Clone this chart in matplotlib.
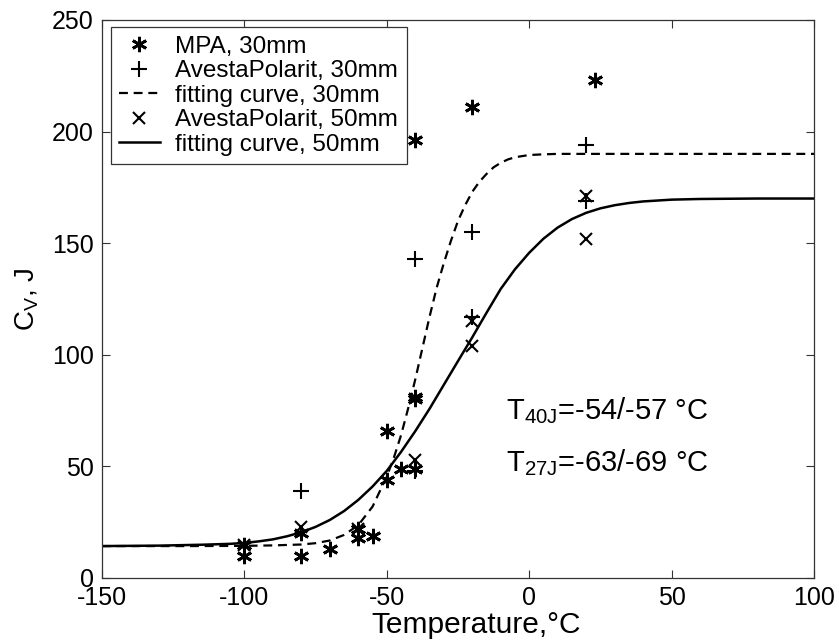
import matplotlib
matplotlib.use('Agg')
import matplotlib.pyplot as plt

plt.rcParams['font.family'] = ['Liberation Sans', 'DejaVu Sans']
plt.rcParams['mathtext.fontset'] = 'custom'
plt.rcParams['mathtext.rm'] = 'Liberation Sans'
plt.rcParams['mathtext.default'] = 'regular'
plt.rcParams['axes.unicode_minus'] = False

# MPA, 30mm (asterisks)
mpa_t = [-100, -100, -80, -80, -70, -60, -60, -55, -50, -50, -45, -40, -40, -40, -40, -20, 23]
mpa_cv = [15, 10, 20, 10, 13, 22, 18, 19, 44, 66, 49, 49, 80, 81, 196, 211, 223]

# AvestaPolarit, 30mm (plus)
ap30_t = [-80, -40, -40, -20, -20, 20, 20]
ap30_cv = [39, 143, 48, 155, 117, 194, 169]

# AvestaPolarit, 50mm (cross)
ap50_t = [-100, -80, -60, -40, -20, -20, 20, 20]
ap50_cv = [15, 23, 22, 53, 115, 104, 171, 152]

# fitting curve, 30mm
fit30_t = [-150, -120, -100, -90, -85, -80, -75, -70, -65, -60, -55, -50, -47.5, -45,
           -42.5, -40, -37.5, -35, -32.5, -30, -27.5, -25, -22.5, -20, -17.5, -15,
           -12.5, -10, -7.5, -5, 0, 5, 10, 20, 100]
fit30_cv = [14.3, 14.3, 14.4, 14.6, 14.8, 15.0, 15.6, 16.8, 19.3, 23.7, 32, 45.5, 54, 64,
            76, 89, 103, 117, 130, 141, 151, 160, 167, 173, 177.5, 181,
            184, 186, 187.5, 188.5, 189.5, 189.8, 190, 190, 190]

# fitting curve, 50mm
fit50_t = [-150, -130, -115, -105, -100, -95, -90, -85, -80, -75, -70, -65, -60, -55, -50,
           -45, -40, -35, -30, -25, -20, -15, -10, -5, 0, 5, 10, 15, 20, 25, 30, 35, 40,
           50, 60, 80, 100]
fit50_cv = [14.3, 14.5, 14.9, 15.3, 15.7, 16.4, 17.3, 18.7, 20.5, 22.9, 26, 30, 35, 41,
            48, 56.5, 65.8, 75.8, 86.5, 97.2, 107.8, 118.8, 129.5, 138.3, 145.7, 152,
            157, 160.8, 163.6, 165.6, 167, 168, 168.7, 169.5, 169.8, 170, 170]

xticks = [-150, -100, -50, 0, 50, 100]
yticks = [0, 50, 100, 150, 200, 250]

fig = plt.figure(figsize=(8.39, 6.44), dpi=100)
ax = fig.add_axes([0.1216, 0.1025, 0.8486, 0.8665])

asterisk = (6, 2, 0)
ax.plot(mpa_t, mpa_cv, linestyle='none', marker=asterisk, markersize=11,
        markeredgewidth=2.0, color='black', label='MPA, 30mm')
ax.plot(ap30_t, ap30_cv, linestyle='none', marker='+', markersize=12,
        markeredgewidth=1.5, color='black', label='AvestaPolarit, 30mm')
ax.plot(fit30_t, fit30_cv, linestyle=(0, (4, 2.6)), linewidth=1.6, color='black',
        label='fitting curve, 30mm')
ax.plot(ap50_t, ap50_cv, linestyle='none', marker='x', markersize=9,
        markeredgewidth=1.5, color='black', label='AvestaPolarit, 50mm')
ax.plot(fit50_t, fit50_cv, linestyle='-', linewidth=1.8, color='black',
        label='fitting curve, 50mm')

ax.set_xlim(-150, 100)
ax.set_ylim(0, 250)
ax.set_xticks(xticks)
ax.set_yticks(yticks)
ax.tick_params(direction='in', length=5.5, width=0.8, labelsize=18, colors='#333333',
               top=True, right=True, labelcolor='black', pad=6)
for s in ax.spines.values():
    s.set_color('#333333')
    s.set_linewidth(0.9)

ax.set_xlabel('Temperature,°C', fontsize=21.5)
ax.xaxis.set_label_coords(0.525, -0.06)
ax.set_ylabel('C$_{V}$, J', fontsize=20, labelpad=8)

ax.text(-8, 75, 'T$_{40J}$=-54/-57 °C', fontsize=21, va='center', ha='left')
ax.text(-8, 51.5, 'T$_{27J}$=-63/-69 °C', fontsize=21, va='center', ha='left')

leg = ax.legend(loc='upper left', bbox_to_anchor=(0.0125, 0.987), fontsize=17.5,
                frameon=True, fancybox=False, edgecolor='#333333', framealpha=1,
                handlelength=1.65, handletextpad=0.65, labelspacing=0.1,
                borderpad=0.35, borderaxespad=0.0)
leg.get_frame().set_linewidth(0.9)

fig.savefig('out.png', dpi=100, facecolor='white')
